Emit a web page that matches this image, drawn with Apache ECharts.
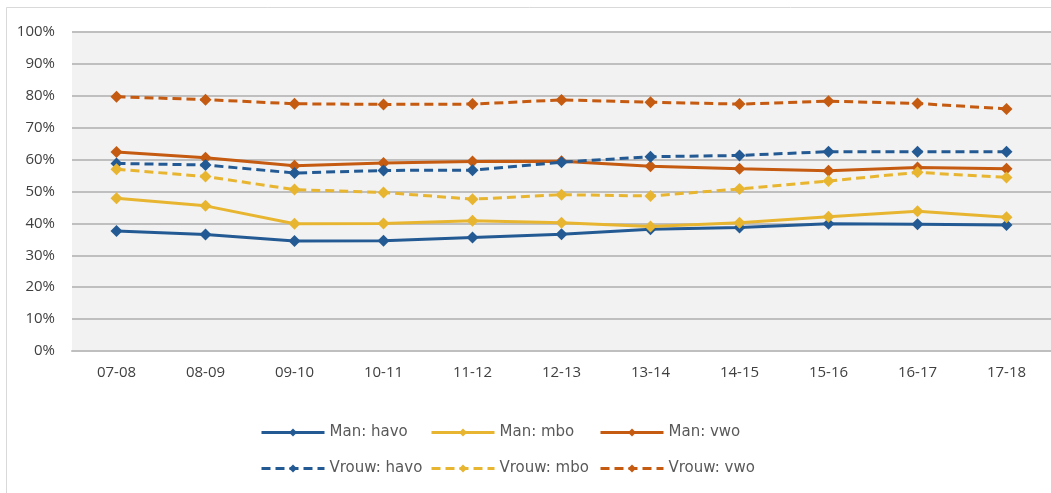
<!DOCTYPE html>
<html>
<head>
<meta charset="utf-8">
<script src="https://cdn.jsdelivr.net/npm/echarts@6/dist/echarts.min.js"></script>
<style>
  html, body { margin: 0; padding: 0; background: #ffffff; }
  #chart { width: 1051px; height: 493px; }
</style>
</head>
<body>
<div id="chart"></div>
<script>
// School years on the x axis
const categories = ['07-08', '08-09', '09-10', '10-11', '11-12', '12-13', '13-14', '14-15', '15-16', '16-17', '17-18'];

// Percentages per group and track
const manHavo   = [37.6, 36.5, 34.5, 34.6, 35.6, 36.6, 38.2, 38.7, 39.9, 39.7, 39.5];
const manMbo    = [47.9, 45.5, 39.9, 40.0, 40.8, 40.2, 39.0, 40.2, 42.1, 43.8, 41.9];
const manVwo    = [62.4, 60.6, 58.1, 58.9, 59.4, 59.5, 57.9, 57.1, 56.5, 57.5, 57.1];
const vrouwHavo = [58.8, 58.3, 55.8, 56.6, 56.7, 59.2, 60.9, 61.3, 62.5, 62.5, 62.5];
const vrouwMbo  = [57.0, 54.7, 50.6, 49.7, 47.6, 49.0, 48.6, 50.8, 53.3, 56.0, 54.4];
const vrouwVwo  = [79.7, 78.8, 77.5, 77.3, 77.4, 78.7, 78.0, 77.4, 78.3, 77.6, 75.9];

const yTicks = [0, 10, 20, 30, 40, 50, 60, 70, 80, 90, 100];

// Legend entries, laid out as a 2 x 3 table
const legendRows = [
  ['Man: havo', 'Man: mbo', 'Man: vwo'],
  ['Vrouw: havo', 'Vrouw: mbo', 'Vrouw: vwo']
];

const BLUE = '#245a93';
const GOLD = '#e8b531';
const ORANGE = '#c55a11';

function makeSeries(name, data, color, dashed) {
  return {
    name: name,
    type: 'line',
    data: data,
    symbol: 'diamond',
    symbolSize: 12,
    lineStyle: { color: color, width: 3, type: dashed ? [9, 5] : 'solid' },
    itemStyle: { color: color },
    z: dashed ? 3 : 2
  };
}

const chart = echarts.init(document.getElementById('chart'), null, { renderer: 'canvas' });

const legendCols = [260, 430, 599];
const legendTops = [425, 461];
const legends = [];
legendRows.forEach(function (row, r) {
  row.forEach(function (name, c) {
    legends.push({
      left: legendCols[c],
      top: legendTops[r],
      padding: 0,
      itemWidth: 63,
      itemHeight: 10,
      lineStyle: { width: 3 },
      textStyle: { fontFamily: 'DejaVu Sans', fontSize: 15, color: '#595959' },
      data: [name]
    });
  });
});

chart.setOption({
  animation: false,
  backgroundColor: '#ffffff',
  graphic: [{
    type: 'rect',
    shape: { x: 6.5, y: 7.5, width: 1100, height: 600 },
    style: { fill: 'none', stroke: '#d9d9d9', lineWidth: 1 },
    silent: true,
    z: -10
  }],
  grid: {
    left: 72,
    top: 32,
    width: 980,
    height: 319,
    show: true,
    backgroundColor: '#f2f2f2',
    borderWidth: 0
  },
  legend: legends,
  xAxis: {
    type: 'category',
    data: categories,
    boundaryGap: true,
    axisLine: { show: true, lineStyle: { color: '#bfbfbf', width: 2 } },
    axisTick: { show: false },
    axisLabel: { fontFamily: 'Open Sans', fontSize: 15, color: '#404040', margin: 14 }
  },
  yAxis: {
    type: 'value',
    min: yTicks[0],
    max: yTicks[yTicks.length - 1],
    interval: 10,
    axisLine: { show: false },
    axisTick: { show: false },
    splitLine: { lineStyle: { color: '#bfbfbf', width: 2 } },
    axisLabel: {
      fontFamily: 'Open Sans', fontSize: 15, color: '#404040', margin: 17,
      formatter: '{value}%'
    }
  },
  series: [
    makeSeries('Man: havo', manHavo, BLUE, false),
    makeSeries('Man: mbo', manMbo, GOLD, false),
    makeSeries('Man: vwo', manVwo, ORANGE, false),
    makeSeries('Vrouw: havo', vrouwHavo, BLUE, true),
    makeSeries('Vrouw: mbo', vrouwMbo, GOLD, true),
    makeSeries('Vrouw: vwo', vrouwVwo, ORANGE, true)
  ]
});
</script>
</body>
</html>
